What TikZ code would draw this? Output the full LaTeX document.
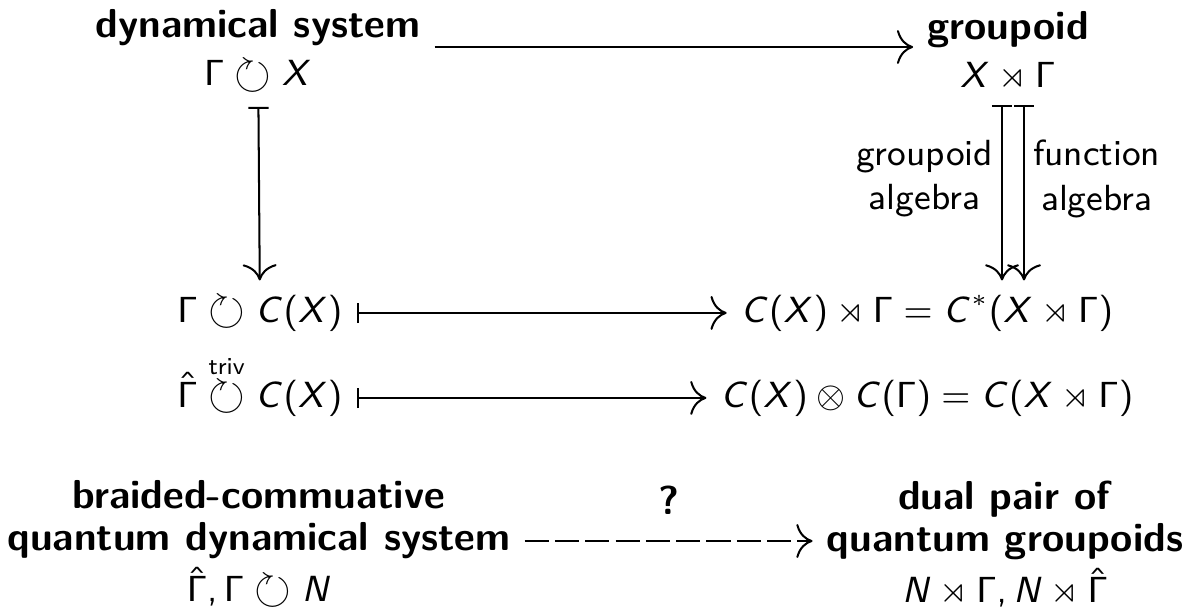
\documentclass[tikz,border=0pt]{standalone}
\usepackage{amsmath,amssymb}
\usetikzlibrary{arrows.meta,calc}
\renewcommand{\familydefault}{\sfdefault}
% sans serif math, as on the slide
\DeclareSymbolFont{operators}{OT1}{cmss}{m}{n}
\DeclareSymbolFont{sfletters}{OT1}{cmss}{m}{sl}
\DeclareMathSymbol{C}{\mathalpha}{sfletters}{`C}
\DeclareMathSymbol{N}{\mathalpha}{sfletters}{`N}
\DeclareMathSymbol{X}{\mathalpha}{sfletters}{`X}
\DeclareMathSymbol{,}{\mathpunct}{operators}{"2C}
\newcommand{\actson}{\mathrel{\vcenter{\hbox{\scalebox{1.3}{$\circlearrowright$}}}}}
\tikzset{
  cdarrow/.style={-{To[length=4pt]}, line width=0.5pt},
  mapsto/.style={{Bar[width=5pt]}-{To[length=4pt]}, line width=0.5pt},
  qarrow/.style={cdarrow, dash pattern=on 6pt off 1.5pt},
  lbl/.style={align=center, inner sep=2pt, font=\small},
  mathnode/.style={anchor=base, font=\small},
}
\begin{document}
\begin{tikzpicture}[x=0.0087cm,y=-0.0087cm]
\useasboundingbox (0,0) rectangle (1197,608);

% classical picture
\node[align=center] (dyn) at (258,51) {\textbf{dynamical system}\\ {\small$\Gamma \actson X$}};
\node[align=center] (grp) at (1008,51) {\textbf{groupoid}\\ {\small$X \rtimes \Gamma$}};

\node[mathnode] (act) at (260,322) {$\Gamma \actson C(X)$};
\node[mathnode] (cross) at (927,322) {$C(X) \rtimes \Gamma = C^*(X \rtimes \Gamma)$};

\node[mathnode] (triv) at (260,407) {$\hat\Gamma \overset{\text{triv}}{\actson} C(X)$};
\node[mathnode] (tens) at (927,407) {$C(X) \otimes C(\Gamma) = C(X \rtimes \Gamma)$};

% quantum picture
\node[align=center] (bq) at (259,544) {\textbf{braided-commuative}\\[-1.5pt] \textbf{quantum dynamical system}\\[0.5pt] {\small$\hat\Gamma, \Gamma \actson N$}};
\node[align=center] (dp) at (1005,544) {\textbf{dual pair of}\\[-1.5pt] \textbf{quantum groupoids}\\[0.5pt] {\small$N \rtimes \Gamma, N \rtimes \hat\Gamma$}};

\coordinate (ga) at ($(grp.south)+(-6,0)$);
\coordinate (fa) at ($(grp.south)+(16,0)$);
\coordinate (topy) at (0,47);
\coordinate (qy) at (0,541);

\draw[cdarrow] (dyn.east |- topy) -- (grp.west |- topy);
\draw[mapsto] (dyn) -- (act);
\draw[mapsto] (ga) -- (ga |- cross.north) node[pos=0.42,left,lbl] {groupoid\\algebra};
\draw[mapsto] (fa) -- (fa |- cross.north) node[pos=0.42,right,lbl] {function\\algebra};
\draw[mapsto] (act) -- (cross);
\draw[mapsto] (triv.east |- tens.west) -- (tens.west);
\draw[qarrow] (bq.east |- qy) -- (dp.west |- qy) node[midway,above=3pt] {\textbf{?}};

\end{tikzpicture}
\end{document}
